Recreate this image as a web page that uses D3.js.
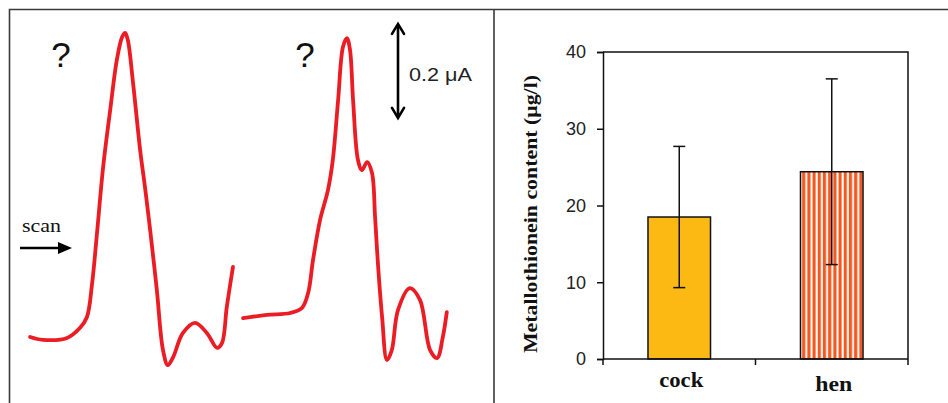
<!DOCTYPE html>
<html>
<head>
<meta charset="utf-8">
<script src="https://cdn.jsdelivr.net/npm/d3@7"></script>
<style>
  html, body { margin: 0; padding: 0; background: #fff; }
  svg { display: block; }
</style>
</head>
<body>
<svg id="chart" width="948" height="403"></svg>
<script>
// Voltammogram traces: scan position (0-100, arbitrary) vs current (μA)
const trace1Scan = [2.3, 5.2, 10.7, 13.6, 15.2, 16.4, 17.5, 18.9, 20.5, 22.0, 23.2, 23.9, 24.5, 25.7, 27.3, 28.4, 29.5, 31.1, 32.5, 33.6, 34.8, 37.0, 39.8, 42.5, 44.8, 45.9, 47.0, 48.4];
const trace1Current = [0.049, 0.043, 0.047, 0.068, 0.091, 0.164, 0.270, 0.411, 0.532, 0.638, 0.687, 0.696, 0.681, 0.589, 0.447, 0.368, 0.283, 0.149, 0.021, -0.011, 0.006, 0.057, 0.079, 0.057, 0.026, 0.036, 0.113, 0.198];
const trace2Scan = [50.7, 56.1, 61.4, 64.1, 65.5, 66.6, 68.2, 70.0, 71.1, 72.3, 73.4, 74.3, 75.0, 75.7, 76.8, 77.7, 78.9, 80.0, 80.7, 81.4, 82.3, 83.4, 84.5, 85.9, 88.6, 90.9, 93.2, 94.8, 96.1, 97.0];
const trace2Current = [0.089, 0.096, 0.100, 0.111, 0.143, 0.213, 0.298, 0.362, 0.426, 0.553, 0.666, 0.685, 0.660, 0.553, 0.426, 0.404, 0.421, 0.398, 0.304, 0.198, 0.091, 0.000, 0.021, 0.106, 0.153, 0.128, 0.021, 0.004, 0.049, 0.102];
const scaleBarCurrent = 0.2;

// Bar chart data
const categories = ["cock", "hen"];
const means = [18.5, 24.4];
const errors = [9.2, 12.1];
const yTicks = [0, 10, 20, 30, 40];

const svg = d3.select("#chart");
const frameColor = "#3a3a3a";
const red = "#ec1c24";

// Outer frame and divider
svg.append("path")
    .attr("d", "M9.5,403 V9.5 H948 M494,9.5 V403")
    .attr("fill", "none")
    .attr("stroke", frameColor)
    .attr("stroke-width", 1.6);

// ---- Left panel: voltammograms ----
const xScan = d3.scaleLinear().domain([0, 100]).range([20, 460]);
const yCur = d3.scaleLinear().domain([0, 1]).range([360, -110]);

const line = d3.line()
    .x(d => xScan(d[0]))
    .y(d => yCur(d[1]))
    .curve(d3.curveCatmullRom.alpha(0.5));

const traces = [
    d3.zip(trace1Scan, trace1Current),
    d3.zip(trace2Scan, trace2Current)
];

svg.append("g")
    .selectAll("path")
    .data(traces)
    .join("path")
    .attr("d", line)
    .attr("fill", "none")
    .attr("stroke", red)
    .attr("stroke-width", 3.8)
    .attr("stroke-linejoin", "round")
    .attr("stroke-linecap", "round");

// question marks
svg.append("g")
    .selectAll("text")
    .data([61, 305])
    .join("text")
    .attr("x", d => d)
    .attr("y", 67)
    .attr("text-anchor", "middle")
    .style("font-family", "'Liberation Sans', Arial, sans-serif")
    .style("font-size", "35px")
    .style("fill", "#111")
    .text("?");

// scan label and arrow
svg.append("text")
    .attr("x", 22)
    .attr("y", 232)
    .attr("textLength", 39)
    .attr("lengthAdjust", "spacingAndGlyphs")
    .style("font-family", "'Liberation Serif', 'Times New Roman', serif")
    .style("font-size", "18px")
    .style("fill", "#111")
    .text("scan");

svg.append("line")
    .attr("x1", 20).attr("y1", 248)
    .attr("x2", 62).attr("y2", 248)
    .attr("stroke", "#000")
    .attr("stroke-width", 2.4);
svg.append("path")
    .attr("d", "M72,248 L58,242 L58,254 Z")
    .attr("fill", "#000");

// current scale bar
const sbX = 398;
const sbTop = yCur(0.715);
const sbBottom = yCur(0.715 - scaleBarCurrent);
svg.append("line")
    .attr("x1", sbX).attr("y1", sbTop + 2)
    .attr("x2", sbX).attr("y2", sbBottom - 2)
    .attr("stroke", "#000")
    .attr("stroke-width", 2.6);
svg.append("path")
    .attr("d", `M${sbX - 6},${sbTop + 10} L${sbX},${sbTop} L${sbX + 6},${sbTop + 10}
                M${sbX - 6},${sbBottom - 10} L${sbX},${sbBottom} L${sbX + 6},${sbBottom - 10}`)
    .attr("fill", "none")
    .attr("stroke", "#000")
    .attr("stroke-width", 2.6)
    .attr("stroke-linecap", "round");
svg.append("text")
    .attr("x", 409)
    .attr("y", 81)
    .attr("textLength", 63)
    .attr("lengthAdjust", "spacingAndGlyphs")
    .style("font-family", "'Liberation Sans', Arial, sans-serif")
    .style("font-size", "19px")
    .style("fill", "#222")
    .text(`${scaleBarCurrent} μA`);

// ---- Right panel: bar chart ----
const x = d3.scaleBand().domain(categories).range([603, 908]).paddingInner(0.59).paddingOuter(0.295);
const y = d3.scaleLinear().domain([0, 40]).range([359, 52]);

const defs = svg.append("defs");
const pat = defs.append("pattern")
    .attr("id", "stripes")
    .attr("patternUnits", "userSpaceOnUse")
    .attr("x", x("hen"))
    .attr("y", 0)
    .attr("width", 5.2)
    .attr("height", 10);
pat.append("rect").attr("width", 5.2).attr("height", 10).attr("fill", "#fff");
pat.append("rect").attr("x", 1.6).attr("width", 3.2).attr("height", 10).attr("fill", "#f4581f");

const barFills = ["#fcb813", "url(#stripes)"];

svg.append("g")
    .selectAll("rect")
    .data(categories)
    .join("rect")
    .attr("x", d => x(d))
    .attr("y", (d, i) => y(means[i]))
    .attr("width", x.bandwidth())
    .attr("height", (d, i) => y(0) - y(means[i]))
    .attr("fill", (d, i) => barFills[i])
    .attr("stroke", "#111")
    .attr("stroke-width", 1.5);

// error bars
const eb = svg.append("g").attr("stroke", "#111").attr("stroke-width", 1.5);
categories.forEach((c, i) => {
    const cx = x(c) + x.bandwidth() / 2;
    const top = y(means[i] + errors[i]);
    const bot = y(means[i] - errors[i]);
    eb.append("line").attr("x1", cx).attr("x2", cx).attr("y1", top).attr("y2", bot);
    eb.append("line").attr("x1", cx - 6).attr("x2", cx + 6).attr("y1", top).attr("y2", top);
    eb.append("line").attr("x1", cx - 6).attr("x2", cx + 6).attr("y1", bot).attr("y2", bot);
});

// plot box
svg.append("path")
    .attr("d", `M603,${y(40)} H908 V${y(0)}`)
    .attr("fill", "none")
    .attr("stroke", "#111")
    .attr("stroke-width", 1.5);

// y axis
const yAxis = svg.append("g")
    .attr("transform", "translate(603,0)")
    .call(d3.axisLeft(y).tickValues(yTicks).tickSize(6).tickPadding(11));
yAxis.select(".domain").attr("stroke", "#111").attr("stroke-width", 1.5);
yAxis.selectAll(".tick line").attr("stroke", "#111").attr("stroke-width", 1.5);
yAxis.selectAll(".tick text")
    .style("font-family", "'Liberation Sans Narrow', 'Liberation Sans', Arial, sans-serif")
    .style("font-size", "18px")
    .style("fill", "#222");

// x axis with ticks at band boundaries
const xAxisLine = svg.append("g");
xAxisLine.append("line")
    .attr("x1", 603).attr("x2", 908)
    .attr("y1", y(0)).attr("y2", y(0))
    .attr("stroke", "#111").attr("stroke-width", 1.5);
const boundaries = [603, (x("cock") + x.bandwidth() + x("hen")) / 2, 908];
xAxisLine.selectAll(".xt")
    .data(boundaries)
    .join("line")
    .attr("x1", d => d).attr("x2", d => d)
    .attr("y1", y(0)).attr("y2", y(0) + 6)
    .attr("stroke", "#111").attr("stroke-width", 1.5);

const labelLen = { cock: 44, hen: 37 };
const labelY = { cock: 387, hen: 391 };
svg.append("g")
    .selectAll("text")
    .data(categories)
    .join("text")
    .attr("x", d => x(d) + x.bandwidth() / 2 + 2)
    .attr("y", d => labelY[d])
    .attr("text-anchor", "middle")
    .attr("textLength", d => labelLen[d])
    .attr("lengthAdjust", "spacingAndGlyphs")
    .style("font-family", "'Liberation Serif', 'Times New Roman', serif")
    .style("font-weight", "bold")
    .style("font-size", "20px")
    .style("fill", "#111")
    .text(d => d);

// y axis title
svg.append("text")
    .attr("transform", "translate(537,214) rotate(-90)")
    .attr("text-anchor", "middle")
    .attr("textLength", 278)
    .attr("lengthAdjust", "spacingAndGlyphs")
    .style("font-family", "'Liberation Serif', 'Times New Roman', serif")
    .style("font-weight", "bold")
    .style("font-size", "18px")
    .style("fill", "#111")
    .text("Metallothionein content (μg/l)");
</script>
</body>
</html>
